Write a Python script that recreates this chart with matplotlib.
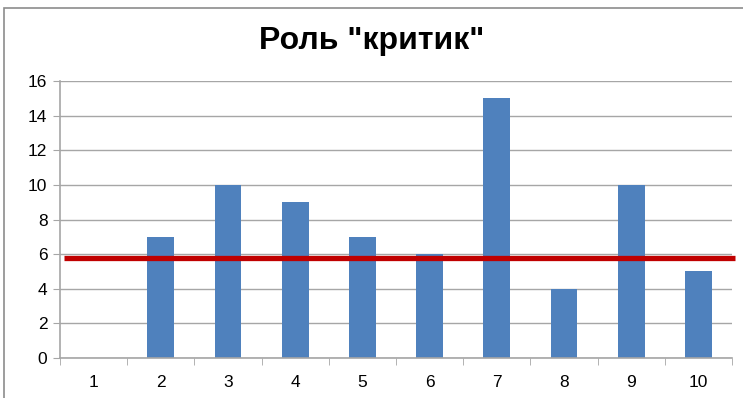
import matplotlib.pyplot as plt
from matplotlib.patches import Rectangle

categories = ['1', '2', '3', '4', '5', '6', '7', '8', '9', '10']
values = [0, 7, 10, 9, 7, 6, 15, 4, 10, 5]
threshold = 5.8

plt.rcParams['font.family'] = ['Liberation Sans', 'DejaVu Sans']

fig = plt.figure(figsize=(7.43, 3.98), dpi=100)
ax = fig.add_axes([60 / 743, 1 - 358 / 398, 672 / 743, 277 / 398])

# outer chart frame
fig.patches.append(Rectangle((4 / 743, -0.1), 1.2, 1 - 8 / 398 + 0.1,
                             transform=fig.transFigure, fill=False,
                             edgecolor='#8c8c8c', linewidth=1.2))

x = list(range(len(categories)))
ax.bar(x, values, width=0.4, color='#4f81bd', zorder=2)
ax.plot([-0.44, 9.545], [threshold, threshold], color='#c00000',
        linewidth=3.8, solid_capstyle='butt', zorder=3, clip_on=False)

ax.set_xlim(-0.5, 9.5)
ax.set_ylim(0, 16)
ax.set_yticks(range(0, 17, 2))
ax.yaxis.grid(True, color='#a6a6a6', linewidth=1)
ax.set_axisbelow(True)

ax.set_xticks(x)
ax.set_xticklabels(categories)
ax.set_xticks([i - 0.5 for i in range(len(categories) + 1)], minor=True)
ax.tick_params(axis='x', which='major', length=0, pad=12, labelsize=12.5)
ax.tick_params(axis='x', which='minor', length=5, color='#a6a6a6', direction='out')
ax.tick_params(axis='y', length=5, color='#a6a6a6', labelsize=12.5, pad=4)

for side in ['top', 'right']:
    ax.spines[side].set_visible(False)
for side in ['left', 'bottom']:
    ax.spines[side].set_color('#a6a6a6')
    ax.spines[side].set_linewidth(1.2)

fig.text(0.5, 1 - 41 / 398, 'Роль "критик"', ha='center', va='center',
         fontsize=23, fontweight='bold')

fig.savefig('out.png', dpi=100)
